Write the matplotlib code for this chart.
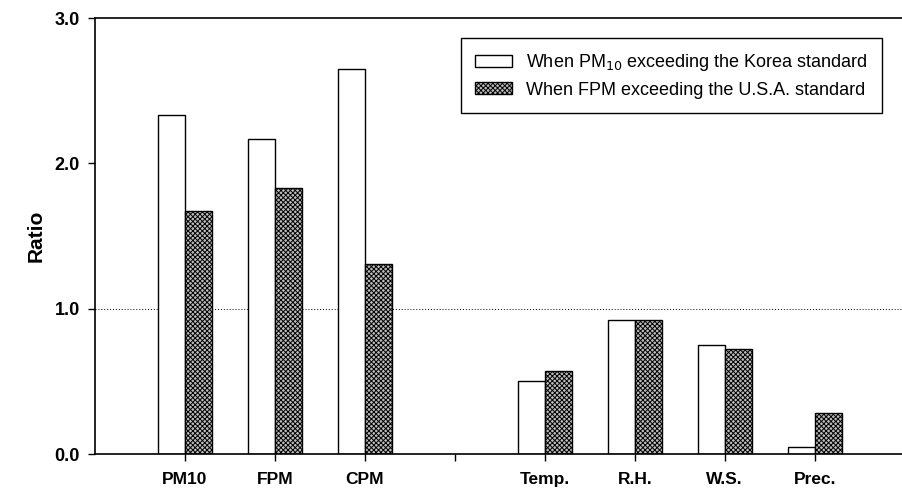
import numpy as np
import matplotlib.pyplot as plt

plt.rcParams['font.family'] = ['Liberation Sans', 'DejaVu Sans']
plt.rcParams['hatch.linewidth'] = 0.7

# ratio of each variable for the two exceedance cases
categories = ["PM10", "FPM", "CPM", "", "Temp.", "R.H.", "W.S.", "Prec."]
korea_ratio = [2.33, 2.17, 2.65, np.nan, 0.50, 0.92, 0.75, 0.05]
usa_ratio = [1.67, 1.83, 1.31, np.nan, 0.57, 0.92, 0.72, 0.28]

pos = np.arange(1, len(categories) + 1)
width = 0.3

fig = plt.figure(figsize=(9.02, 4.92), dpi=100)
ax = fig.add_axes([0.1053, 0.0772, 0.8947, 0.8862])

ax.bar(pos - width / 2, korea_ratio, width, color="white", edgecolor="black",
       linewidth=1.0, label="When PM$_{10}$ exceeding the Korea standard")
ax.bar(pos + width / 2, usa_ratio, width, color="#bcbcbc", edgecolor="black",
       linewidth=1.0, hatch="xxxxxxx", label="When FPM exceeding the U.S.A. standard")

ax.axhline(1.0, color="black", linestyle=(0, (1, 2)), linewidth=0.7, zorder=0)

ax.set_xlim(0, 8.97)
ax.set_ylim(0, 3.0)
ax.set_xticks(pos)
ax.set_xticklabels(categories, fontsize=12.5, fontweight="bold")
ax.set_yticks([0, 1, 2, 3])
ax.set_yticklabels(["0.0", "1.0", "2.0", "3.0"], fontsize=13, fontweight="bold")
ax.tick_params(direction="out", length=5, width=1)
ax.tick_params(axis="x", pad=8)
ax.tick_params(axis="y", pad=6)
ax.set_ylabel("Ratio", fontsize=15, fontweight="bold", labelpad=6)

ax.spines["right"].set_visible(False)
for side in ("left", "top", "bottom"):
    ax.spines[side].set_linewidth(1.2)

leg = ax.legend(loc="upper left", bbox_to_anchor=(461 / 902, 1 - 38 / 492),
                bbox_transform=fig.transFigure, fontsize=13, frameon=True,
                fancybox=False, edgecolor="black", framealpha=1,
                borderaxespad=0, handlelength=2.0, handleheight=0.6,
                handletextpad=0.8, labelspacing=0.45, borderpad=0.8)
leg.get_frame().set_linewidth(1.0)

fig.savefig("out.png", dpi=100)
